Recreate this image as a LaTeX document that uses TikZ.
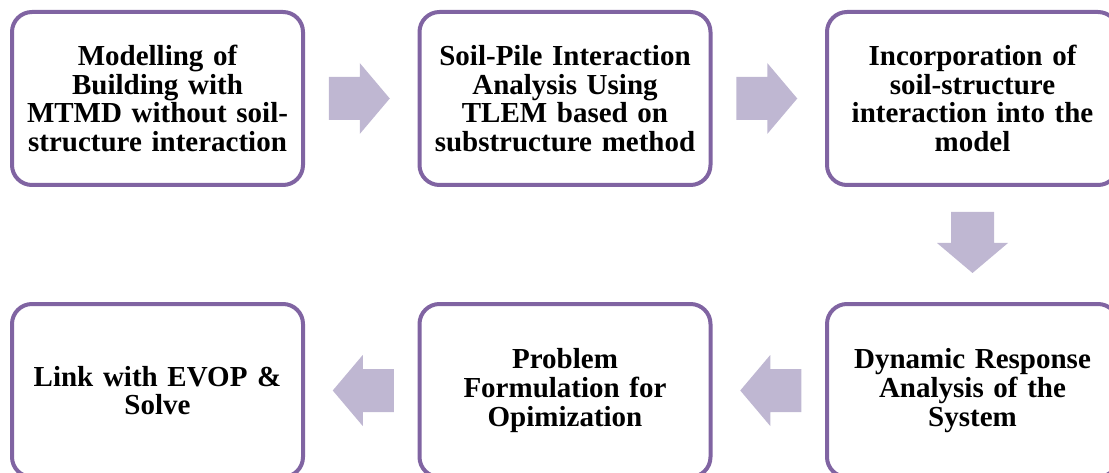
\documentclass[tikz,border=0pt]{standalone}
\usepackage{fontspec}
\setmainfont{Liberation Serif}
\usetikzlibrary{calc}
\definecolor{boxline}{RGB}{128,100,162}
\definecolor{arrowfill}{RGB}{191,183,210}
\tikzset{
  stepbox/.style={draw=boxline, line width=4pt, rounded corners=20pt, fill=white,
    minimum width=291pt, minimum height=173pt, inner sep=0pt,
    align=center, text width=287pt,
    font=\fontsize{29}{28.7}\selectfont\bfseries},
  blockarrow/.style={fill=arrowfill, draw=none}
}
\newcommand{\flowarrow}[2]{%
  \begin{scope}[shift={(#1)}, rotate=#2]
    \fill[blockarrow] (-30.5,-21.5) -- (0.5,-21.5) -- (0.5,-35.5) -- (30.5,0)
      -- (0.5,35.5) -- (0.5,21.5) -- (-30.5,21.5) -- cycle;
  \end{scope}}
\begin{document}
\begin{tikzpicture}[x=1pt,y=-1pt]
\useasboundingbox (0,0) rectangle (1109,473);
\clip (0,0) rectangle (1109,473);
\node[stepbox] (b1) at (157.5,98.5) {Modelling of\\Building with\\MTMD without soil-\\structure interaction};
\node[stepbox] (b2) at (565,98.5) {Soil-Pile Interaction\\Analysis Using\\TLEM based on\\substructure method};
\node[stepbox] (b3) at (972.5,98.5) {Incorporation of\\soil-structure\\interaction into the\\model};
\node[stepbox] (b4) at (972.5,390.5) {Dynamic Response\\Analysis of the\\System};
\node[stepbox] (b5) at (565,390.5) {Problem\\Formulation for\\Opimization};
\node[stepbox] (b6) at (157.5,390.5) {Link with EVOP \&\\Solve};
\coordinate (a1) at ($(b1.east)!0.5!(b2.west)+(-2,0)$);
\coordinate (a2) at ($(b2.east)!0.5!(b3.west)+(-2,0)$);
\coordinate (a3) at ($(b3.south)!0.5!(b4.north)+(0,-2)$);
\coordinate (a4) at ($(b4.west)!0.5!(b5.east)+(2,0)$);
\coordinate (a5) at ($(b5.west)!0.5!(b6.east)+(2,0)$);
\flowarrow{a1}{0}
\flowarrow{a2}{0}
\flowarrow{a3}{-90}
\flowarrow{a4}{180}
\flowarrow{a5}{180}
\end{tikzpicture}
\end{document}
